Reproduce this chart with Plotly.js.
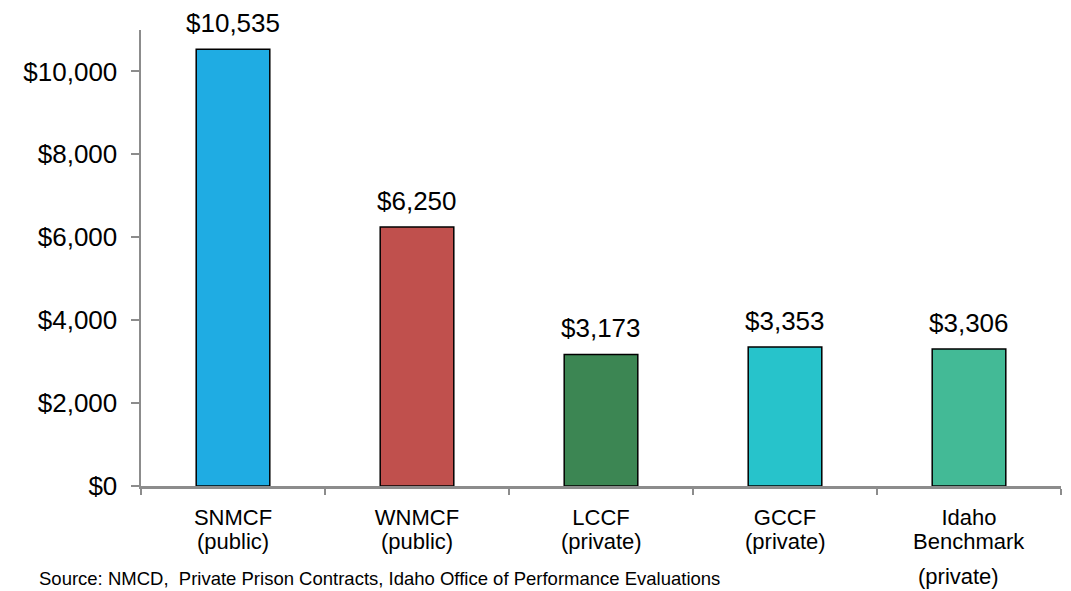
<!DOCTYPE html>
<html>
<head>
<meta charset="utf-8">
<script src="https://cdn.plot.ly/plotly-3.0.1.min.js"></script>
<style>html,body{margin:0;padding:0;background:#fff;}#chart{width:1071px;height:591px;}</style>
</head>
<body>
<div id="chart"></div>
<script>
const categories = ["SNMCF", "WNMCF", "LCCF", "GCCF", "Idaho"];
const labelLine1 = ["SNMCF", "WNMCF", "LCCF", "GCCF", "Idaho"];
const labelLine2 = ["(public)", "(public)", "(private)", "(private)", "Benchmark"];
const extraLabel = "(private)";
const values = [10535, 6250, 3173, 3353, 3306];
const valueLabels = ["$10,535", "$6,250", "$3,173", "$3,353", "$3,306"];
const barColors = ["#1FACE3", "#C0504D", "#3C8653", "#27C3CB", "#43BA96"];
const yTickVals = [0, 2000, 4000, 6000, 8000, 10000];
const yTickText = ["$0", "$2,000", "$4,000", "$6,000", "$8,000", "$10,000"];
const sourceText = "Source: NMCD,  Private Prison Contracts, Idaho Office of Performance Evaluations";

const FONT = "Liberation Sans, Arial, sans-serif";

const trace = {
  type: "bar",
  x: categories,
  y: values,
  width: 0.4,
  marker: { color: barColors, line: { color: "#000", width: 1.5 } },
  hoverinfo: "skip"
};

const annotations = [];
categories.forEach((c, i) => {
  annotations.push({
    x: c, y: values[i], xref: "x", yref: "y",
    text: valueLabels[i], showarrow: false,
    yanchor: "bottom", yshift: 9,
    font: { family: FONT, size: 26, color: "#000" }
  });
  annotations.push({
    x: c, y: 0, xref: "x", yref: "paper",
    text: labelLine2[i], showarrow: false,
    yanchor: "top", yshift: -41,
    font: { family: FONT, size: 22, color: "#000" }
  });
});
annotations.push({
  x: "Idaho", y: 0, xref: "x", yref: "paper",
  text: extraLabel, showarrow: false, xshift: -11,
  yanchor: "top", yshift: -76,
  font: { family: FONT, size: 22, color: "#000" }
});
annotations.push({
  x: -0.113, y: -0.203, xref: "paper", yref: "paper",
  xanchor: "left", yanchor: "middle",
  text: sourceText, showarrow: false,
  font: { family: FONT, size: 18.5, color: "#000" }
});

const layout = {
  width: 1071, height: 591,
  margin: { l: 141, r: 10, t: 30, b: 105 },
  paper_bgcolor: "#fff", plot_bgcolor: "#fff",
  showlegend: false,
  bargap: 0.6,
  xaxis: {
    type: "category",
    tickvals: categories,
    ticktext: labelLine1,
    tickson: "boundaries",
    ticks: "outside", ticklen: 6, tickwidth: 2, tickcolor: "#8c8c8c",
    showline: true, linecolor: "#8c8c8c", linewidth: 2.5,
    showgrid: false, zeroline: false,
    ticklabelstandoff: 10,
    tickfont: { family: FONT, size: 22, color: "#000" },
    range: [-0.5, 4.5]
  },
  yaxis: {
    range: [0, 11000],
    tickvals: yTickVals, ticktext: yTickText,
    ticks: "outside", ticklen: 8, tickwidth: 2, tickcolor: "#8c8c8c",
    showline: true, linecolor: "#8c8c8c", linewidth: 2.5,
    showgrid: false, zeroline: false,
    ticklabelstandoff: 8,
    tickfont: { family: FONT, size: 26, color: "#000" }
  },
  annotations: annotations
};

Plotly.newPlot("chart", [trace], layout, { displayModeBar: false, staticPlot: true });
</script>
</body>
</html>
